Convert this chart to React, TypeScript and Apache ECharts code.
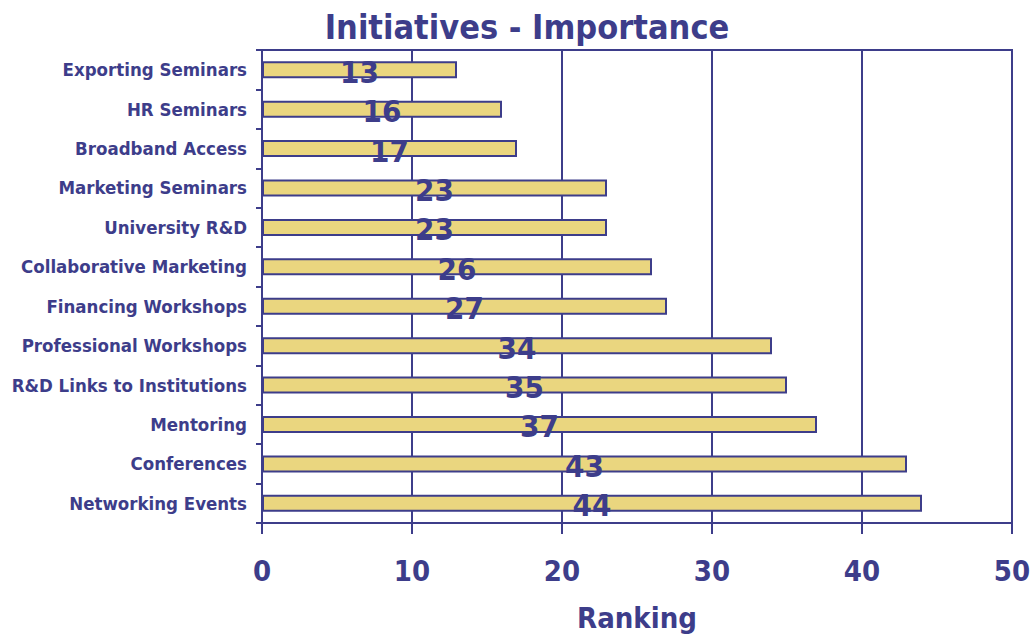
import React, { useEffect, useRef } from "react";
import * as echarts from "echarts";

const categories = [
  "Exporting Seminars",
  "HR Seminars",
  "Broadband Access",
  "Marketing Seminars",
  "University R&D",
  "Collaborative Marketing",
  "Financing Workshops",
  "Professional Workshops",
  "R&D Links to Institutions",
  "Mentoring",
  "Conferences",
  "Networking Events",
];
const values = [13, 16, 17, 23, 23, 26, 27, 34, 35, 37, 43, 44];

const NAVY = "#3d3d8a";
const FONT = "'DejaVu Sans Condensed', 'DejaVu Sans', sans-serif";

export default function App() {
  const ref = useRef<HTMLDivElement>(null);
  useEffect(() => {
    if (!ref.current) return;
    const chart = echarts.init(ref.current, undefined, { renderer: "svg" });
    chart.setOption({
      animation: false,
      backgroundColor: "#ffffff",
      title: {
        text: "Initiatives - Importance",
        left: 522,
        top: 5,
        textAlign: "center",
        textStyle: { color: NAVY, fontFamily: FONT, fontWeight: "bold", fontSize: 34 },
      },
      grid: {
        left: 262,
        right: 22,
        top: 50,
        height: 473,
        containLabel: false,
        outerBoundsMode: "none",
        show: true,
        borderColor: NAVY,
        borderWidth: 2,
        backgroundColor: "transparent",
      },
      xAxis: {
        type: "value",
        min: 0,
        max: 50,
        interval: 10,
        name: "Ranking",
        nameLocation: "middle",
        nameGap: 80,
        nameTextStyle: { color: NAVY, fontFamily: FONT, fontWeight: "bold", fontSize: 29 },
        axisLine: { show: true, lineStyle: { color: NAVY, width: 2 } },
        axisTick: { show: true, length: 11, lineStyle: { color: NAVY, width: 2 } },
        axisLabel: { color: NAVY, fontFamily: FONT, fontWeight: "bold", fontSize: 29, margin: 33 },
        splitLine: { show: true, lineStyle: { color: NAVY, width: 2 } },
      },
      yAxis: {
        type: "category",
        data: categories,
        inverse: true,
        axisLine: { show: true, lineStyle: { color: NAVY, width: 2 } },
        axisTick: { show: true, length: 6, lineStyle: { color: NAVY, width: 2 } },
        axisLabel: { color: NAVY, fontFamily: FONT, fontWeight: "bold", fontSize: 18.5, margin: 15 },
      },
      series: [
        {
          type: "bar",
          data: values,
          barWidth: 17,
          itemStyle: { color: "#ead67f", borderColor: NAVY, borderWidth: 2 },
          label: {
            show: true,
            position: "inside",
            offset: [0, 2],
            color: NAVY,
            fontFamily: FONT,
            fontWeight: "bold",
            fontSize: 31,
          },
        },
      ],
    });
    return () => chart.dispose();
  }, []);
  return (
    <div
      ref={ref}
      style={{ width: 1034, height: 634, position: "fixed", left: 0, top: 0 }}
    />
  );
}
